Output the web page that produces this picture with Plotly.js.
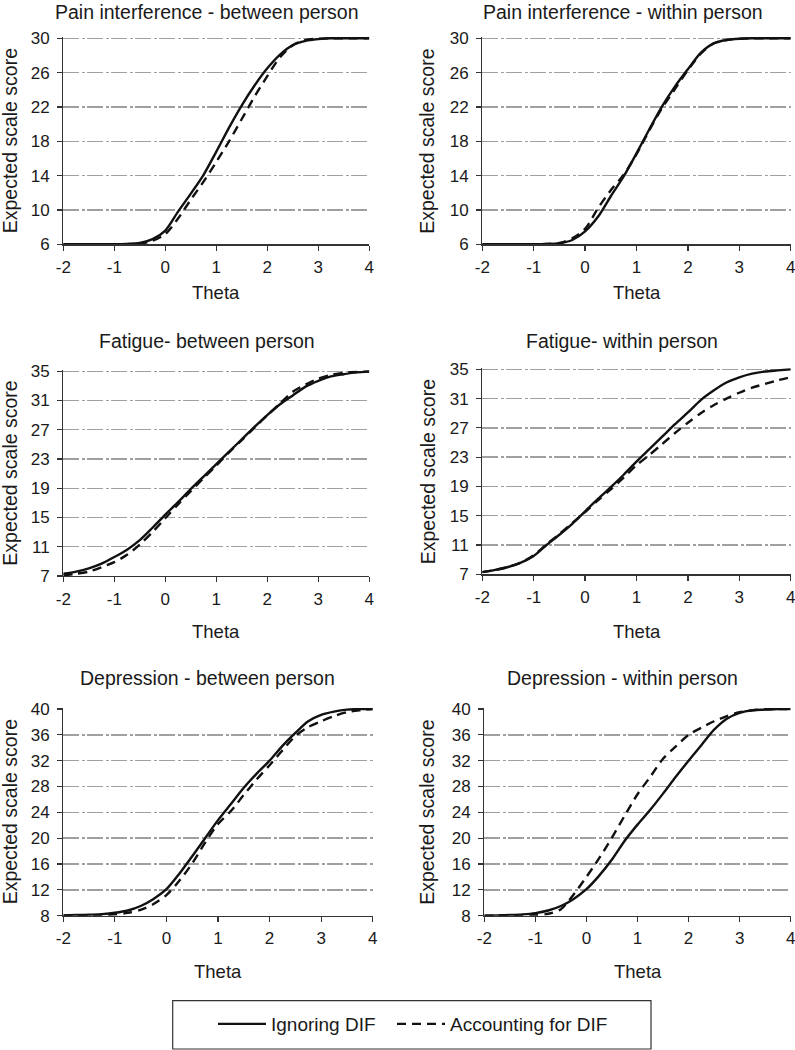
<!DOCTYPE html>
<html>
<head>
<meta charset="utf-8">
<script src="https://cdn.plot.ly/plotly-3.0.1.min.js"></script>
<style>html,body{margin:0;padding:0;background:#fff;}#chart{width:795px;height:1050px;}</style>
</head>
<body>
<div id="chart"></div>
<script>
// Theta grid (x values)
const theta = [-2, -1.75, -1.5, -1.25, -1, -0.75, -0.5, -0.25, 0, 0.25, 0.5, 0.75, 1, 1.25, 1.5, 1.75, 2, 2.25, 2.5, 2.75, 3, 3.25, 3.5, 3.75, 4];

// Panel titles
const panelTitles = [
  "Pain interference - between person",
  "Pain interference - within person",
  "Fatigue- between person",
  "Fatigue- within person",
  "Depression - between person",
  "Depression - within person"
];

const seriesNames = ["Ignoring DIF", "Accounting for DIF"];

// Pain interference - between person
const painBetweenIgnoring   = [6.0, 6.0, 6.0, 6.0, 6.02, 6.05, 6.15, 6.6, 7.6, 9.8, 11.9, 14.1, 16.8, 19.6, 22.2, 24.5, 26.5, 28.1, 29.2, 29.7, 29.9, 30.0, 30.0, 30.0, 30.0];
const painBetweenAccounting = [6.0, 6.0, 6.0, 6.0, 6.0, 6.01, 6.05, 6.4, 7.2, 9.0, 11.2, 13.3, 15.6, 18.0, 20.6, 23.2, 25.6, 27.8, 29.2, 29.8, 29.95, 30.0, 30.0, 30.0, 30.0];

// Pain interference - within person
const painWithinIgnoring   = [6.0, 6.0, 6.0, 6.0, 6.0, 6.03, 6.12, 6.5, 7.5, 9.2, 11.6, 13.9, 16.6, 19.4, 22.1, 24.4, 26.4, 28.3, 29.4, 29.8, 29.95, 30.0, 30.0, 30.0, 30.0];
const painWithinAccounting = [6.0, 6.0, 6.0, 6.0, 6.0, 6.04, 6.15, 6.7, 7.8, 10.2, 12.3, 14.1, 16.5, 19.3, 21.9, 24.1, 26.3, 28.2, 29.4, 29.8, 29.95, 30.0, 30.0, 30.0, 30.0];

// Fatigue - between person
const fatigueBetweenIgnoring   = [7.3, 7.6, 8.05, 8.7, 9.6, 10.6, 11.9, 13.6, 15.4, 17.1, 18.9, 20.6, 22.3, 24.0, 25.7, 27.4, 29.0, 30.5, 31.7, 32.9, 33.7, 34.3, 34.6, 34.85, 34.95];
const fatigueBetweenAccounting = [7.1, 7.3, 7.6, 8.2, 8.9, 9.9, 11.3, 13.0, 14.9, 16.8, 18.6, 20.4, 22.1, 23.9, 25.6, 27.3, 29.0, 30.6, 32.2, 33.2, 34.0, 34.5, 34.8, 34.9, 35.0];

// Fatigue - within person
const fatigueWithinIgnoring   = [7.3, 7.6, 8.0, 8.6, 9.5, 11.0, 12.4, 13.9, 15.6, 17.3, 18.9, 20.6, 22.4, 24.1, 25.8, 27.5, 29.1, 30.8, 32.1, 33.2, 33.9, 34.4, 34.7, 34.85, 35.0];
const fatigueWithinAccounting = [7.3, 7.6, 8.0, 8.6, 9.6, 11.1, 12.5, 14.0, 15.5, 17.1, 18.6, 20.2, 21.9, 23.3, 24.8, 26.3, 27.7, 29.0, 30.1, 31.0, 31.8, 32.5, 33.0, 33.5, 33.9];

// Depression - between person
const depBetweenIgnoring   = [8.05, 8.1, 8.15, 8.25, 8.45, 8.8, 9.5, 10.6, 12.1, 14.5, 17.2, 20.0, 22.8, 25.3, 27.8, 30.0, 32.0, 34.3, 36.3, 38.1, 39.1, 39.6, 39.9, 40.0, 40.0];
const depBetweenAccounting = [8.0, 8.03, 8.06, 8.1, 8.2, 8.45, 8.9, 9.8, 11.2, 13.4, 16.1, 19.3, 22.2, 24.2, 26.7, 29.1, 31.3, 33.6, 35.8, 37.2, 38.1, 38.9, 39.5, 39.8, 40.0];

// Depression - within person
const depWithinIgnoring   = [8.0, 8.05, 8.1, 8.2, 8.4, 8.8, 9.5, 10.6, 12.1, 14.2, 16.7, 19.6, 22.1, 24.4, 26.9, 29.5, 32.0, 34.4, 36.8, 38.5, 39.4, 39.8, 39.9, 40.0, 40.0];
const depWithinAccounting = [8.0, 8.0, 8.02, 8.05, 8.1, 8.3, 9.0, 11.3, 14.0, 16.9, 20.1, 23.5, 26.8, 29.5, 32.3, 34.2, 36.0, 37.1, 38.1, 38.9, 39.5, 39.8, 39.95, 40.0, 40.0];

// Y tick values per scale
const painTicks = [6, 10, 14, 18, 22, 26, 30];
const fatigueTicks = [7, 11, 15, 19, 23, 27, 31, 35];
const depTicks = [8, 12, 16, 20, 24, 28, 32, 36, 40];
const xTicks = [-2, -1, 0, 1, 2, 3, 4];

const panelData = [
  [painBetweenIgnoring, painBetweenAccounting],
  [painWithinIgnoring, painWithinAccounting],
  [fatigueBetweenIgnoring, fatigueBetweenAccounting],
  [fatigueWithinIgnoring, fatigueWithinAccounting],
  [depBetweenIgnoring, depBetweenAccounting],
  [depWithinIgnoring, depWithinAccounting]
];
const panelTicks = [painTicks, painTicks, fatigueTicks, fatigueTicks, depTicks, depTicks];

// Layout geometry (pixels in the 795x1050 page)
const W = 795, H = 1050;
const boxes = [
  {l: 63.3, r: 369.3, t: 38.3, b: 244.3},
  {l: 482.3, r: 790.7, t: 38.3, b: 244.3},
  {l: 63.3, r: 369.3, t: 371.3, b: 576},
  {l: 482.3, r: 790.7, t: 369.3, b: 574.3},
  {l: 63.3, r: 372.7, t: 709, b: 915.7},
  {l: 484.3, r: 790.7, t: 709, b: 915.7}
];
const titleX = [207, 622.5, 207, 622, 207, 622];
const titleY = [12, 12, 340.7, 340.7, 678.3, 678.3];
const thetaY = [292, 292, 631.7, 631.7, 971.7, 971.7];
const ylabX = [10, 427.5, 10, 427.5, 10, 427.5];

const FONT = "Liberation Sans, Arial, Helvetica, sans-serif";
const legendCommon = {
  orientation: "h", xanchor: "left", y: 1 - 1024 / H, yanchor: "middle",
  font: {family: FONT, size: 19, color: "#1a1a1a"},
  bgcolor: "rgba(0,0,0,0)", borderwidth: 0, itemwidth: 48
};
const traces = [];
const layout = {
  width: W, height: H,
  margin: {l: 0, r: 0, t: 0, b: 0},
  paper_bgcolor: "#fff", plot_bgcolor: "#fff",
  font: {family: FONT, color: "#1a1a1a", size: 16},
  showlegend: true,
  legend: Object.assign({x: 213 / W}, legendCommon),
  legend2: Object.assign({x: 392 / W}, legendCommon),
  annotations: [],
  shapes: [{
    type: "rect", xref: "paper", yref: "paper",
    x0: 172.7 / W, x1: 651 / W, y0: 1 - 1049 / H, y1: 1 - 1000.7 / H,
    line: {color: "#333", width: 1.2}, fillcolor: "rgba(0,0,0,0)"
  }]
};

for (let i = 0; i < 6; i++) {
  const ax = i === 0 ? "" : String(i + 1);
  const bx = boxes[i];
  const ticks = panelTicks[i];
  const ymin = ticks[0], ymax = ticks[ticks.length - 1];
  const pxPerUnit = (bx.b - bx.t) / (ymax - ymin);
  const extra = 0.15;
  const top = bx.t - extra * pxPerUnit;
  [0, 1].forEach(s => {
    traces.push({
      type: "scatter", mode: "lines",
      x: theta, y: panelData[i][s],
      xaxis: "x" + ax, yaxis: "y" + ax,
      name: seriesNames[s], legendgroup: seriesNames[s],
      legend: s === 0 ? "legend" : "legend2",
      showlegend: i === 0,
      line: {color: "#111", width: 2.4, dash: s === 0 ? "solid" : "9px,6px", shape: "spline", smoothing: 0.8},
      hoverinfo: "skip"
    });
  });
  layout["xaxis" + ax] = {
    domain: [bx.l / W, bx.r / W], anchor: "y" + ax,
    range: [-2, 4], tickvals: xTicks, ticktext: xTicks.map(String),
    showgrid: false, zeroline: false,
    showline: true, linecolor: "#333", linewidth: 1.3,
    ticks: "outside", ticklen: 5, tickwidth: 1.2, tickcolor: "#333",
    ticklabelstandoff: 2, ticklabeloverflow: "allow",
    tickfont: {family: FONT, size: 17, color: "#1a1a1a"},
    fixedrange: true
  };
  layout["yaxis" + ax] = {
    domain: [1 - bx.b / H, 1 - top / H], anchor: "x" + ax,
    range: [ymin, ymax + extra], tickvals: ticks, ticktext: ticks.map(String),
    showgrid: true, gridcolor: "#a0a0a0", gridwidth: 1.4, griddash: "16px,2.5px,3px,2.5px",
    zeroline: false,
    showline: true, linecolor: "#333", linewidth: 1.3,
    ticks: "outside", ticklen: 5, tickwidth: 1.2, tickcolor: "#333",
    ticklabelstandoff: 4, ticklabeloverflow: "allow",
    tickfont: {family: FONT, size: 17, color: "#1a1a1a"},
    fixedrange: true
  };
  layout.annotations.push({
    xref: "paper", yref: "paper", x: titleX[i] / W, y: 1 - titleY[i] / H,
    xanchor: "center", yanchor: "middle", showarrow: false,
    text: panelTitles[i], font: {family: FONT, size: 19.5, color: "#1a1a1a"}
  });
  layout.annotations.push({
    xref: "paper", yref: "paper", x: ((bx.l + bx.r) / 2) / W, y: 1 - thetaY[i] / H,
    xanchor: "center", yanchor: "middle", showarrow: false,
    text: "Theta", font: {family: FONT, size: 18.5, color: "#1a1a1a"}
  });
  layout.annotations.push({
    xref: "paper", yref: "paper", x: ylabX[i] / W, y: 1 - ((bx.t + bx.b) / 2) / H,
    xanchor: "center", yanchor: "middle", showarrow: false, textangle: -90,
    text: "Expected scale score", font: {family: FONT, size: 19.5, color: "#1a1a1a"}
  });
}

Plotly.newPlot("chart", traces, layout, {displayModeBar: false, staticPlot: true});
</script>
</body>
</html>
